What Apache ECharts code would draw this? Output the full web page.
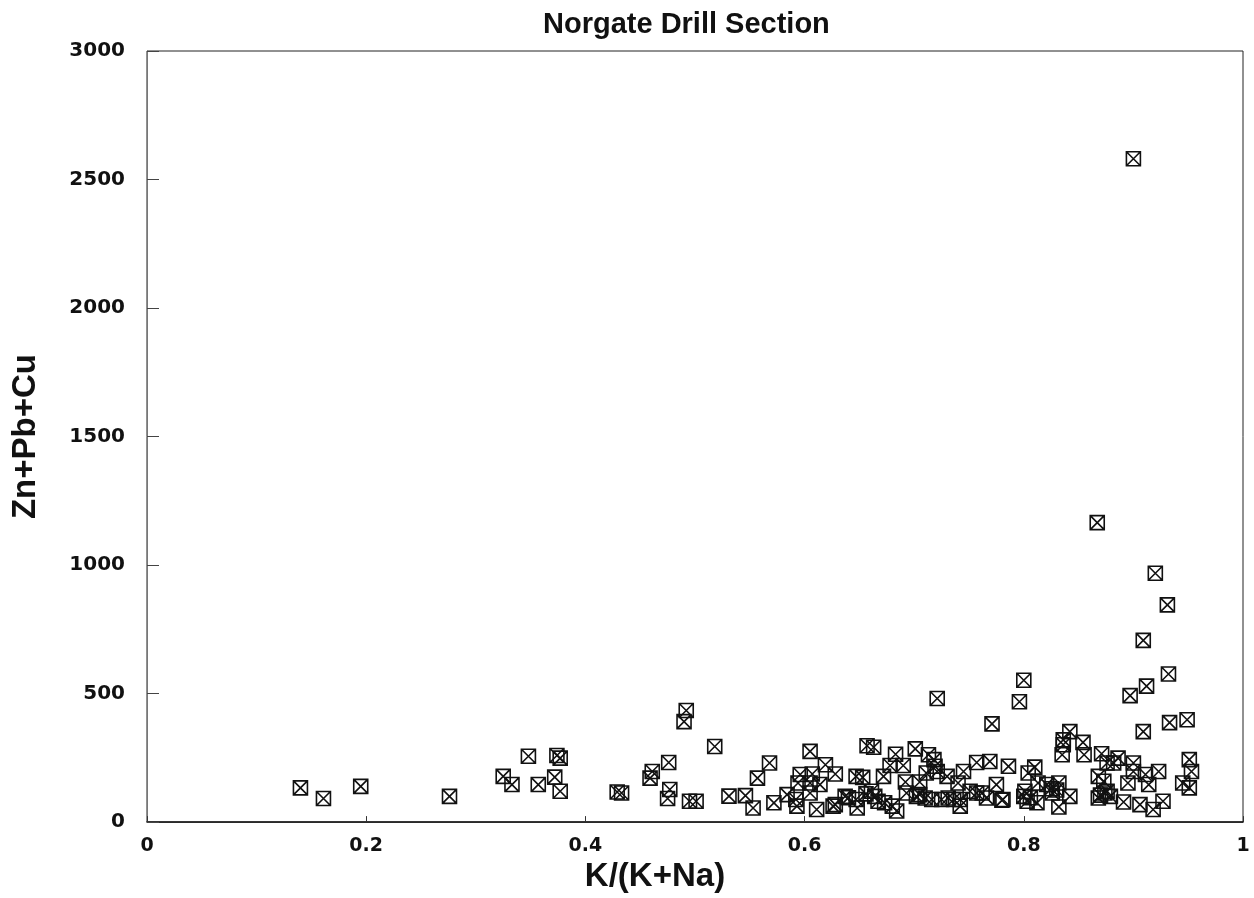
<!DOCTYPE html>
<html>
<head>
<meta charset="utf-8">
<script src="https://cdn.jsdelivr.net/npm/echarts@6/dist/echarts.min.js"></script>
<style>
  html, body { margin: 0; padding: 0; background: #fff; }
  #chart { width: 1254px; height: 898px; }
</style>
</head>
<body>
<div id="chart"></div>
<script>
// K/(K+Na) ratio for each sample
const kRatio = [
  0.140, 0.161, 0.195, 0.276, 0.325, 0.333, 0.348, 0.357, 0.372, 0.374,
  0.377, 0.377, 0.429, 0.433, 0.459, 0.461, 0.476, 0.477, 0.475, 0.492,
  0.490, 0.495, 0.501, 0.518, 0.531, 0.546, 0.553, 0.557, 0.568, 0.572,
  0.584, 0.592, 0.593, 0.596, 0.594, 0.605, 0.607, 0.605, 0.614, 0.605,
  0.619, 0.611, 0.626, 0.628, 0.628, 0.637, 0.647, 0.653, 0.647, 0.648,
  0.657, 0.663, 0.661, 0.664, 0.667, 0.672, 0.673, 0.680, 0.684, 0.678,
  0.683, 0.690, 0.692, 0.693, 0.701, 0.705, 0.702, 0.705, 0.710, 0.713,
  0.718, 0.719, 0.721, 0.711, 0.716, 0.721, 0.730, 0.725, 0.731, 0.736,
  0.740, 0.745, 0.742, 0.742, 0.751, 0.757, 0.762, 0.757, 0.769, 0.771,
  0.766, 0.775, 0.780, 0.786, 0.867, 0.920, 0.931, 0.909, 0.932, 0.912,
  0.897, 0.800, 0.796, 0.909, 0.933, 0.949, 0.842, 0.836, 0.836, 0.835,
  0.854, 0.855, 0.810, 0.804, 0.781, 0.801, 0.803, 0.812, 0.813, 0.821,
  0.832, 0.826, 0.842, 0.832, 0.871, 0.876, 0.886, 0.882, 0.868, 0.873,
  0.868, 0.874, 0.879, 0.891, 0.895, 0.900, 0.900, 0.911, 0.914, 0.906,
  0.918, 0.927, 0.923, 0.951, 0.953, 0.945, 0.951, 0.900, 0.800, 0.806,
  0.825, 0.830, 0.870, 0.876, 0.640, 0.656
];
// Zn+Pb+Cu for each sample
const metals = [
  133, 92, 139, 100, 178, 146, 256, 146, 175, 259,
  249, 120, 117, 113, 171, 197, 232, 127, 92, 434,
  391, 81, 81, 294, 101, 103, 55, 171, 230, 75,
  107, 88, 62, 185, 152, 275, 187, 152, 146, 113,
  223, 49, 62, 68, 187, 100, 178, 174, 88, 55,
  297, 291, 120, 100, 81, 178, 75, 62, 43, 220,
  264, 220, 156, 113, 285, 156, 100, 107, 94, 262,
  243, 217, 197, 191, 88, 481, 178, 88, 94, 88,
  152, 197, 88, 62, 120, 113, 113, 232, 236, 382,
  94, 146, 85, 217, 1165, 968, 845, 707, 576, 529,
  492, 552, 468, 352, 387, 398, 352, 320, 301, 262,
  310, 262, 214, 191, 88, 120, 81, 75, 152, 146,
  152, 113, 100, 59, 266, 230, 249, 230, 178, 159,
  94, 113, 100, 78, 152, 230, 197, 185, 146, 68,
  49, 81, 197, 243, 197, 152, 133, 2581, 100, 95,
  130, 125, 105, 120, 95, 110
];

const points = kRatio.map((k, i) => [k, metals[i]]);

const chart = echarts.init(document.getElementById("chart"));
const font = "'Liberation Sans', Arial, sans-serif";
const tickFont = "'DejaVu Sans', sans-serif";

chart.setOption({
  backgroundColor: "#fff",
  animation: false,
  title: {
    text: "Norgate Drill Section",
    left: 538,
    top: 5,
    textStyle: { fontFamily: font, fontSize: 29, fontWeight: "bold", color: "#111" }
  },
  grid: {
    left: 147,
    right: 11,
    top: 51,
    bottom: 71,
    show: true,
    borderColor: "#222",
    borderWidth: 1
  },
  xAxis: {
    type: "value",
    min: 0,
    max: 1,
    interval: 0.2,
    name: "K/(K+Na)",
    nameLocation: "middle",
    nameGap: 33,
    nameTextStyle: { fontFamily: font, fontSize: 33, fontWeight: "bold", color: "#111", padding: [0, 80, 0, 0] },
    axisLine: { show: true, lineStyle: { color: "#111", width: 1.5 } },
    axisTick: { show: true, inside: true, length: 6, lineStyle: { color: "#333" } },
    axisLabel: { fontFamily: tickFont, fontSize: 19, fontWeight: "bold", color: "#111", margin: 14 },
    splitLine: { show: false }
  },
  yAxis: {
    type: "value",
    min: 0,
    max: 3000,
    interval: 500,
    name: "Zn+Pb+Cu",
    nameLocation: "middle",
    nameGap: 105,
    nameTextStyle: { fontFamily: font, fontSize: 33, fontWeight: "bold", color: "#111" },
    axisLine: { show: true, lineStyle: { color: "#777", width: 1 } },
    axisTick: { show: true, inside: true, length: 12, lineStyle: { color: "#444" } },
    axisLabel: {
      fontFamily: tickFont, fontSize: 20, fontWeight: "bold", color: "#111", margin: 22,
      formatter: v => String(v)
    },
    splitLine: { show: false }
  },
  series: [
    {
      type: "scatter",
      data: points,
      symbol: "path://M1,1H13V13H1Z M1,1L13,13 M13,1L1,13",
      symbolSize: 14,
      itemStyle: { color: "rgba(255,255,255,0)", borderColor: "#111", borderWidth: 1.6, opacity: 1 }
    }
  ]
});
</script>
</body>
</html>
